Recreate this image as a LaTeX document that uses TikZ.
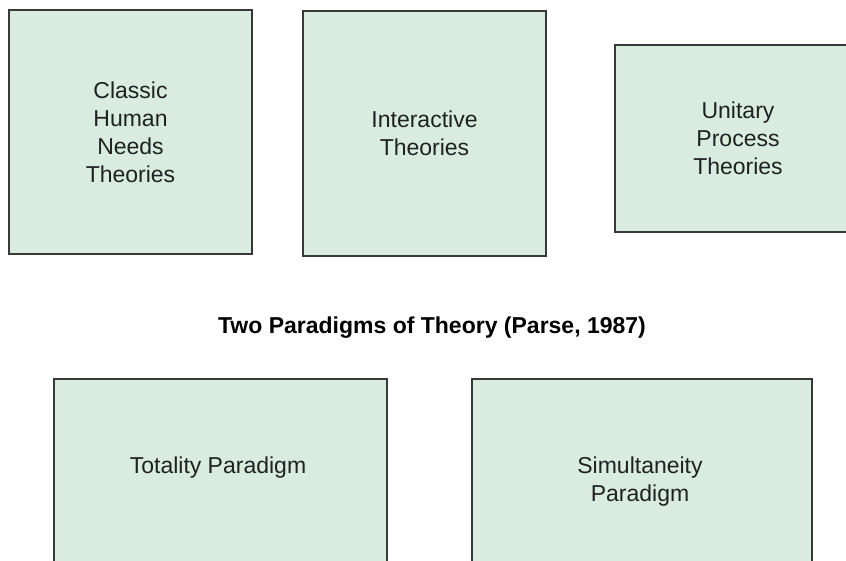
\documentclass[tikz,border=0pt]{standalone}
\usepackage{fontspec}
\setmainfont{Liberation Sans}
\definecolor{boxfill}{RGB}{218,236,223}
\definecolor{boxline}{RGB}{55,58,56}
\definecolor{txt}{RGB}{30,34,32}
\begin{document}
\begin{tikzpicture}[x=1pt,y=-1pt,
  box/.style={draw=boxline, line width=1.6pt, fill=boxfill, rectangle, inner sep=0pt,
    align=center, text=txt, font=\fontsize{23}{28}\selectfont},
  boxtext/.style={align=center, text=txt, inner sep=0pt, font=\fontsize{23}{28}\selectfont},
  titletext/.style={text=black, inner sep=0pt, font=\bfseries\fontsize{23}{28}\selectfont}]
\useasboundingbox (0,0) rectangle (846,560);
\node[box, minimum width=243pt, minimum height=244pt] (classic) at (130.5,132) {Classic\\Human\\Needs\\Theories};
\node[box, minimum width=243pt, minimum height=245pt] (interactive) at (424.5,133.5) {Interactive\\Theories};
\node[box, minimum width=246pt, minimum height=187pt] (unitary) at (738,138.5) {Unitary\\Process\\Theories};
\node[titletext, anchor=base] (title) at (432,333) {Two Paradigms of Theory (Parse, 1987)};
\node[box, minimum width=333pt, minimum height=221pt] (totality) at (220.5,489.5) {};
\node[box, minimum width=340pt, minimum height=221pt] (simult) at (642,489.5) {};
\node[boxtext, anchor=north] (totalitytext) at (218,457) {Totality Paradigm};
\node[boxtext, anchor=north] (simulttext) at (640,457) {Simultaneity\\Paradigm};
\end{tikzpicture}
\end{document}
